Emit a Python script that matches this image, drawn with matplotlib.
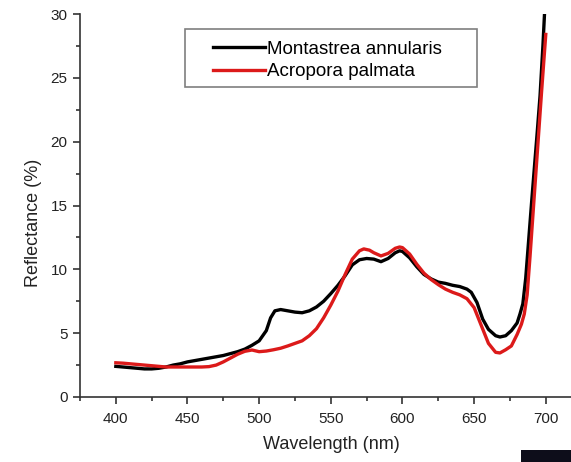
import matplotlib.pyplot as plt
from matplotlib.patches import Rectangle
from matplotlib.ticker import MultipleLocator

plt.rcParams['font.family'] = ['Liberation Sans', 'DejaVu Sans']

# reflectance spectra (%)
wl_mont = [400, 405, 410, 415, 420, 425, 430, 435, 440, 445, 450, 455, 460, 465,
           470, 475, 480, 485, 490, 495, 500, 505, 508, 511, 515, 520, 525, 530,
           535, 540, 545, 550, 555, 560, 565, 570, 575, 580, 585, 590, 595, 598,
           600, 605, 610, 615, 620, 625, 630, 635, 640, 645, 648, 652, 656, 660,
           665, 668, 672, 676, 680, 682, 684, 686, 688, 690, 692, 694, 696, 698,
           700]
mont = [2.40, 2.35, 2.30, 2.25, 2.20, 2.20, 2.25, 2.35, 2.50, 2.60, 2.75, 2.85,
        2.95, 3.05, 3.15, 3.25, 3.40, 3.55, 3.75, 4.05, 4.40, 5.20, 6.20, 6.75,
        6.85, 6.75, 6.65, 6.60, 6.75, 7.05, 7.50, 8.10, 8.75, 9.50, 10.35, 10.75,
        10.85, 10.80, 10.60, 10.85, 11.30, 11.45, 11.40, 10.90, 10.20, 9.60, 9.25,
        9.00, 8.90, 8.75, 8.65, 8.45, 8.20, 7.40, 6.10, 5.30, 4.80, 4.70, 4.80,
        5.20, 5.80, 6.50, 7.30, 9.30, 12.2, 15.1, 17.9, 20.7, 23.6, 27.5, 32.0]

wl_acro = [400, 405, 410, 415, 420, 425, 430, 435, 440, 445, 450, 455, 460, 465,
           470, 475, 480, 485, 490, 495, 500, 505, 510, 515, 520, 525, 530, 535,
           540, 545, 550, 555, 560, 565, 570, 573, 577, 580, 585, 590, 595, 598,
           600, 605, 610, 615, 620, 625, 630, 635, 640, 645, 650, 655, 660, 665,
           668, 672, 676, 680, 683, 685, 687, 689, 691, 693, 695, 697, 700]
acro = [2.68, 2.65, 2.60, 2.55, 2.50, 2.45, 2.40, 2.35, 2.35, 2.35, 2.35, 2.35,
        2.35, 2.38, 2.50, 2.75, 3.05, 3.35, 3.58, 3.68, 3.55, 3.60, 3.70, 3.82,
        4.00, 4.20, 4.40, 4.80, 5.35, 6.20, 7.20, 8.30, 9.60, 10.80, 11.45, 11.60,
        11.50, 11.30, 11.05, 11.25, 11.65, 11.75, 11.70, 11.20, 10.40, 9.70, 9.20,
        8.80, 8.45, 8.20, 8.00, 7.70, 7.00, 5.60, 4.20, 3.50, 3.45, 3.70, 4.00,
        4.90, 5.70, 6.50, 8.00, 11.0, 14.2, 17.4, 20.6, 23.8, 28.4]

fig = plt.figure(figsize=(5.71, 4.62), dpi=100)
ax = fig.add_axes([80 / 571, 1 - 397 / 462, 491 / 571, 383 / 462])

ax.plot(wl_mont, mont, color='black', lw=2.4, label='Montastrea annularis')
ax.plot(wl_acro, acro, color='#dc1a1a', lw=2.4, label='Acropora palmata')

ax.set_xlim(375, 717.6)
ax.set_ylim(0, 30)
ax.xaxis.set_major_locator(MultipleLocator(50))
ax.xaxis.set_minor_locator(MultipleLocator(25))
ax.yaxis.set_major_locator(MultipleLocator(5))
ax.yaxis.set_minor_locator(MultipleLocator(2.5))

for s in ['top', 'right']:
    ax.spines[s].set_visible(False)
for s in ['left', 'bottom']:
    ax.spines[s].set_color('#333333')
    ax.spines[s].set_linewidth(1.2)

ax.tick_params(which='major', direction='out', length=5, width=1.2,
               color='#333333', labelsize=11, labelcolor='#222222', pad=4)
ax.tick_params(which='minor', direction='out', length=3, width=1.2,
               color='#333333')
ax.tick_params(axis='x', which='major', pad=6)

ax.set_xlabel('Wavelength (nm)', fontsize=13, color='#222222')
ax.set_ylabel('Reflectance (%)', fontsize=13, color='#222222')
ax.xaxis.set_label_coords(0.511, -0.103)
ax.yaxis.set_label_coords(-0.078, 0.454)

# legend frame drawn separately so the padding can be wider than tall
ax.add_patch(Rectangle((0.214, 0.809), 0.595, 0.152, transform=ax.transAxes,
                       facecolor='white', edgecolor='#7f7f7f', lw=1.2, zorder=4))
leg = ax.legend(loc='upper left', bbox_to_anchor=(0.271, 0.931), frameon=False,
                fontsize=13.5, borderpad=0, borderaxespad=0, handlelength=2.77,
                handletextpad=0.1, labelspacing=0.3)
leg.set_zorder(5)

fig.patches.append(Rectangle((521 / 571, 0), 50 / 571, 12 / 462,
                             transform=fig.transFigure, facecolor='#0d0d1a',
                             edgecolor='none'))

fig.savefig('out.png', dpi=100)
